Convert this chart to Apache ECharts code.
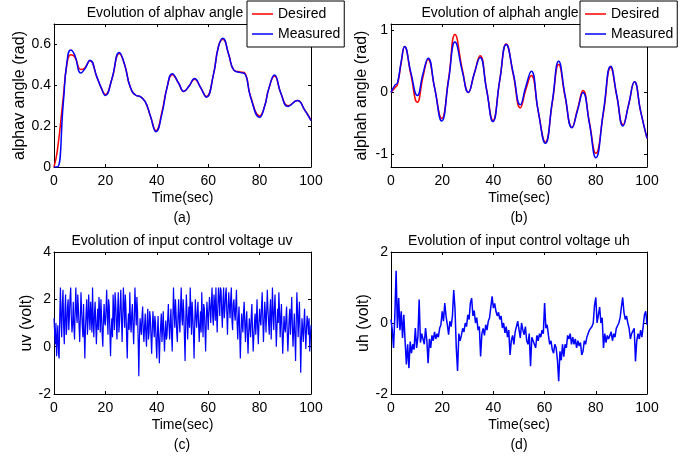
<!DOCTYPE html>
<html>
<head>
<meta charset="utf-8">
<title>alphav / alphah tracking and control voltages</title>
<script src="https://cdn.jsdelivr.net/npm/echarts@6/dist/echarts.min.js"></script>
<style>
    html, body { margin: 0; padding: 0; background: #fff; }
    #chart { width: 695px; height: 459px; }
</style>
</head>
<body>
<div id="chart"></div>
<script>
// (a) alphav angle, read at uneven times
const timeA = [0, 1.3, 3.6, 5, 6.5, 8, 10.5, 12, 14, 16.7, 18.3, 20, 22.5, 25.4, 27.5, 29.7, 32, 33.6, 35.5, 37.5,
    39.7, 42, 44, 46, 48.5, 50.5, 52.5, 54.7, 57, 59.3, 62, 64, 65.7, 68, 70, 72.6, 74.2, 76.5, 80, 82,
    83.5, 85.8, 88.3, 91.1, 94.7, 97.5, 100];
const desA = [0, 0.08, 0.34, 0.5, 0.55, 0.54, 0.477, 0.485, 0.52, 0.44, 0.39, 0.355, 0.43, 0.555, 0.5, 0.39, 0.35, 0.345, 0.32, 0.25,
    0.178, 0.27, 0.39, 0.452, 0.41, 0.37, 0.395, 0.43, 0.39, 0.345, 0.45, 0.59, 0.625, 0.55, 0.474, 0.465, 0.46, 0.345, 0.25, 0.3,
    0.38, 0.445, 0.36, 0.3, 0.325, 0.28, 0.23];
const measA = [0, 0, 0.31, 0.51, 0.573, 0.55, 0.46, 0.48, 0.523, 0.44, 0.39, 0.35, 0.43, 0.56, 0.5, 0.39, 0.35, 0.345, 0.32, 0.25,
    0.173, 0.26, 0.39, 0.457, 0.41, 0.37, 0.395, 0.433, 0.39, 0.342, 0.45, 0.59, 0.63, 0.55, 0.474, 0.462, 0.457, 0.342, 0.243, 0.3,
    0.38, 0.45, 0.36, 0.296, 0.326, 0.28, 0.227];

// (b) alphah angle
const timeB = [0, 1.6, 2.5, 4, 5.3, 7.7, 10.3, 12.5, 14.5, 17, 19.8, 22.5, 25, 27.9, 30.2, 32.5, 34.8, 37.3, 39.8, 42.5,
    45, 47.8, 50.5, 52.7, 54.8, 57.5, 60.3, 63, 65.5, 68, 70.7, 72.8, 75, 77.5, 80, 83, 85.8, 88.2, 90.6, 92.8,
    95.1, 97.5, 100];
const desB = [0, 0.08, 0.12, 0.48, 0.74, 0.3, -0.16, 0.25, 0.53, 0.08, -0.42, 0.22, 0.93, 0.36, 0.0, 0.3, 0.59, 0.06, -0.45, 0.2,
    0.78, 0.28, -0.25, 0.05, 0.27, -0.3, -0.8, -0.17, 0.45, -0.07, -0.56, -0.28, 0.03, -0.48, -0.98, -0.32, 0.4, -0.06, -0.52, -0.2,
    0.17, -0.3, -0.74];
const measB = [0, 0.12, 0.15, 0.5, 0.74, 0.33, -0.05, 0.3, 0.55, 0.08, -0.46, 0.2, 0.81, 0.33, 0.0, 0.3, 0.56, 0.05, -0.47, 0.2,
    0.77, 0.3, -0.2, 0.1, 0.34, -0.3, -0.82, -0.15, 0.5, -0.05, -0.57, -0.3, 0.0, -0.5, -1.05, -0.3, 0.42, -0.05, -0.54, -0.2,
    0.17, -0.3, -0.74];

// (c) uv, one value every uvStep seconds from t = 0 (20 per row = 5 s)
const uvStep = 0.25;
const uv = [
    1.2, 0.6, 0.1, 1.0, -0.4, 0.3, 0.9, -0.3, -0.5, 1.4, 2.5, 1.1, 0.4, 1.8, 2.4, 0.9, 0.1, 1.5, 2.2, 0.5,
    0.8, 1.7, 2.0, 0.7, 1.3, 2.1, 2.5, 1.2, 0.6, 1.0, 1.9, 0.8, 0.3, 1.6, 2.5, 1.4, 1.0, 2.2, 1.6, 0.9,
    0.2, 1.2, 2.3, 1.5, 0.9, 0.4, 1.8, 0.6, -0.5, 0.8, 1.5, 2.0, 0.5, 1.1, 2.2, 1.3, 0.7, 1.9, 1.4, 0.6,
    2.5, 1.1, 0.4, 1.4, 1.9, 0.9, 0.1, 1.0, 1.6, 0.7, 2.1, 1.5, 0.6, 2.0, 1.3, 0.5, 0.0, 1.2, 1.8, 1.0,
    0.9, 1.6, 2.4, 1.3, 0.5, 2.0, 1.7, 0.6, -0.4, 0.7, 1.2, 0.4, 2.2, 1.4, 0.7, 2.3, 1.9, 1.0, 0.3, 1.5,
    2.3, 0.6, 1.0, 1.8, 2.4, 1.2, 0.2, 1.3, 2.5, 1.7, 0.8, 2.2, 1.6, 0.4, -0.5, 0.9, 1.4, 0.7, 2.3, 1.1,
    0.6, 1.4, 1.8, 0.8, 0.1, 1.2, 2.5, 1.6, 0.9, 2.1, 1.5, 0.3, -1.25, 0.4, 1.2, 0.8, 0.5, 1.3, 1.7, 0.6,
    0.2, 0.9, 1.4, 0.5, 0.0, 1.1, 1.6, 0.3, 0.6, 1.5, 1.2, 0.4, -0.3, 0.7, 1.5, 0.9, 0.4, 1.3, 1.0, 0.1,
    -0.5, 0.6, 1.3, 0.2, -0.7, 0.4, 0.9, 1.4, 0.2, 0.8, 1.5, 0.5, -0.2, 0.6, 1.1, 0.3, 0.5, 1.2, 1.8, 0.9,
    0.3, 1.0, 1.6, 0.5, -0.2, 1.2, 2.5, 1.5, 0.8, 2.0, 1.4, 0.6, 0.2, 1.3, 2.0, 1.1, 0.6, 1.7, 2.5, 1.2,
    0.9, 2.0, 1.5, 0.4, -0.6, 1.0, 2.2, 1.4, 0.3, 1.1, 1.7, 0.8, 2.5, 1.6, 0.5, 1.9, 1.3, 0.6, -0.5, 0.9,
    2.0, 1.3, 0.8, 1.4, 1.9, 1.0, 0.2, 0.9, 1.5, 0.6, 2.3, 1.2, 0.4, 1.8, 1.6, 0.7, -0.2, 1.1, 1.9, 1.4,
    0.7, 1.5, 2.1, 1.6, 1.0, 1.9, 2.5, 1.3, 0.9, 2.2, 1.8, 1.1, 2.5, 1.4, 0.6, 1.7, 2.5, 2.0, 1.3, 2.5,
    2.4, 1.5, 0.8, 1.9, 2.5, 1.2, 1.6, 2.2, 2.5, 1.4, 0.5, 1.6, 2.3, 1.7, 1.2, 2.0, 2.5, 1.1, 0.7, 1.8,
    2.0, 1.4, 1.1, 1.8, 2.4, 1.0, 0.3, 1.2, 1.7, 0.6, -0.5, 0.5, 1.4, 1.0, 0.6, 1.5, 1.9, 0.9, 0.2, 1.1,
    1.5, 0.5, -0.3, 0.6, 1.2, 0.8, 0.4, 1.3, 1.8, 0.7, -0.2, 0.4, 1.0, 1.4, 0.5, 1.1, 2.0, 0.8, 0.1, 1.0,
    1.6, 1.1, 0.9, 1.7, 2.3, 1.2, 0.2, 1.0, 1.9, 1.4, 0.6, 1.5, 2.4, 1.6, 1.0, 0.5, 1.5, 2.0, 0.3, 1.2,
    2.5, 1.4, 0.7, 1.6, 2.2, 1.1, 0.0, 0.8, 1.6, 1.0, 2.3, 1.5, 0.4, 1.2, 1.8, 0.6, -0.3, 0.5, 1.3, 0.8,
    0.6, 1.2, 1.7, 0.6, -0.2, 0.5, 1.2, 1.6, 0.5, 1.3, 2.1, 0.9, 0.0, 0.7, 1.4, 0.4, -0.6, 1.0, 2.3, 1.5,
    0.4, 1.2, 1.9, 0.6, -1.1, 0.3, 1.2, 0.7, 0.2, 1.0, 1.6, 0.6, -0.1, 0.8, 1.3, 1.0, 0.5, 1.2, -0.2, 0.4,
    0.9];

// (d) uh, one value every uhStep seconds from t = 0 (10 per row = 5 s)
const uhStep = 0.5;
const uh = [
    0.1, -0.2, -0.7, 0.2, 1.47, -0.14, 0.7, -0.2, 0.33, -0.42,
    0.23, -0.5, -1.17, -0.6, -1.27, -0.52, -0.85, -0.6, -0.75, -0.14,
    -0.7, -0.4, 0.66, -0.55, -0.3, -0.45, -0.6, -0.14, -0.5, -1.13,
    -0.45, -0.7, -0.35, -0.5, -0.25, -0.45, -0.3, -0.4, -0.15, -0.05,
    0.33, 0.05, 0.56, 0.2, -0.05, -0.33, 0.05, -0.1, 0.2, 0.93,
    0.4, -0.7, -1.35, -0.3, -0.5, -0.35, -0.15, -0.25, 0.0, -0.1,
    0.23, 0.1, 0.56, 0.7, 0.2, 0.35, 0.0, 0.15, -0.2, -0.1,
    -0.94, -0.3, -0.15, -0.35, -0.05, -0.2, 0.05, 0.15, 0.2, 0.75,
    0.42, 0.55, 0.33, 0.2, 0.3, 0.1, 0.2, -0.14, 0.0, -0.28,
    -0.1, -0.4, -0.2, -0.9, -0.5, -0.35, -0.6, -0.25, -0.3, 0.05,
    0.1, -0.42, 0.0, -0.2, -0.33, -0.1, -0.5, -0.6, -0.3, -1.22,
    -0.4, -0.5, -0.55, -0.7, -0.35, -0.5, -0.3, -0.4, -0.2, -0.3,
    0.56, -0.15, -0.05, -0.35, -0.6, -0.5, -0.75, -0.85, -0.6, -0.7,
    -1.03, -1.64, -0.8, -1.05, -0.6, -0.95, -0.6, -0.7, -0.35, -0.45,
    -0.3, -0.6, -0.4, -0.6, -0.45, -0.7, -0.5, -0.65, -0.55, -0.9,
    -0.8, -0.5, -0.6, -0.4, -0.35, -0.2, -0.25, -0.1, 0.0, 0.5,
    0.72, 0.0, -0.05, 0.45, 0.0, 0.15, -0.7, -0.3, -0.55, -0.35,
    -0.45, -0.4, -0.25, -0.5, -0.3, -0.4, -0.15, -0.1, 0.0, 0.15,
    0.45, 0.72, 0.3, 0.1, 0.2, 0.0, -0.14, -0.45, -0.3, -0.25,
    -0.15, -1.08, -0.5, -0.3, -0.45, -0.2, -0.4, -0.1, 0.23, 0.33,
    -0.05];

// tick labels
const xTicks = [0, 20, 40, 60, 80, 100];
const yTicksA = [0, 0.2, 0.4, 0.6];
const yTicksB = [-1, 0, 1];
const yTicksC = [-2, 0, 2, 4];
const yTicksD = [-2, 0, 2];

const font = '"Liberation Sans", Arial, sans-serif';

function pairs(t, v) {
    return v.map(function (y, i) { return [t[i], y]; });
}
function stepPairs(v, step) {
    return v.map(function (y, i) { return [i * step, y]; });
}

// each panel: grid, bottom+top x axes, left+right y axes (matlab box)
const panels = [
    { left: 54, top: 24, width: 257, height: 143, ymin: 0, ymax: 0.7, ticks: yTicksA, yname: 'alphav angle (rad)', gap: 25 },
    { left: 391, top: 24, width: 256, height: 143, ymin: -1.2, ymax: 1.1, ticks: yTicksB, yname: 'alphah angle (rad)', gap: 21 },
    { left: 54, top: 252, width: 257, height: 142, ymin: -2, ymax: 4, ticks: yTicksC, yname: 'uv (volt)', gap: 19 },
    { left: 391, top: 252, width: 256, height: 142, ymin: -2, ymax: 2, ticks: yTicksD, yname: 'uh (volt)', gap: 19 }
];

let grids = [], xAxes = [], yAxes = [];
const black = { color: '#000', width: 1 };
panels.forEach(function (p, i) {
    grids.push({ left: p.left, top: p.top, width: p.width, height: p.height, outerBoundsMode: 'none' });
    ['bottom', 'top'].forEach(function (pos) {
        xAxes.push({
            gridIndex: i, type: 'value', min: 0, max: 100, position: pos,
            name: pos == 'bottom' ? 'Time(sec)' : '',
            nameLocation: 'middle', nameGap: 24,
            nameTextStyle: { color: '#000', fontFamily: font, fontSize: 14 },
            axisLine: { onZero: false, lineStyle: black },
            axisTick: { inside: true, length: 3, customValues: xTicks, lineStyle: black },
            axisLabel: { show: pos == 'bottom', customValues: xTicks, margin: 7, color: '#000', fontFamily: font, fontSize: 14 },
            splitLine: { show: false }
        });
    });
    ['left', 'right'].forEach(function (pos) {
        yAxes.push({
            gridIndex: i, type: 'value', min: p.ymin, max: p.ymax, position: pos,
            name: pos == 'left' ? p.yname : '',
            nameLocation: 'middle', nameGap: p.gap,
            nameTextStyle: { color: '#000', fontFamily: font, fontSize: 16 },
            axisLine: { onZero: false, lineStyle: black },
            axisTick: { inside: true, length: 3, customValues: p.ticks, lineStyle: black },
            axisLabel: { show: pos == 'left', customValues: p.ticks, margin: 3, color: '#000', fontFamily: font, fontSize: 14 },
            splitLine: { show: false }
        });
    });
});

function line(name, gi, data, color, width) {
    return {
        name: name, type: 'line', xAxisIndex: gi * 2, yAxisIndex: gi * 2,
        data: data, symbol: 'none', smooth: gi < 2, sampling: null,
        lineStyle: { color: color, width: width }, itemStyle: { color: color },
        emphasis: { disabled: true }
    };
}

const series = [
    line('Desired', 0, pairs(timeA, desA), '#ff0000', 1.5),
    line('Measured', 0, pairs(timeA, measA), '#0000ff', 1.5),
    line('Desired', 1, pairs(timeB, desB), '#ff0000', 1.5),
    line('Measured', 1, pairs(timeB, measB), '#0000ff', 1.5),
    line('uv', 2, stepPairs(uv, uvStep), '#0000ff', 1.2),
    line('uh', 3, stepPairs(uh, uhStep), '#0000ff', 1.5)
];

function legendAt(left) {
    return {
        data: ['Desired', 'Measured'], orient: 'vertical', left: left, top: 1,
        icon: 'rect', itemWidth: 21, itemHeight: 1.5, itemGap: 4,
        padding: [5, 4, 5, 5], borderColor: '#000', borderWidth: 1, backgroundColor: '#fff',
        selectedMode: false, z: 10,
        textStyle: { color: '#000', fontFamily: font, fontSize: 14, lineHeight: 16 }
    };
}

function label(text, x, y) {
    return {
        type: 'text', x: x, y: y, silent: true,
        style: { text: text, align: 'center', verticalAlign: 'middle', fill: '#000', fontFamily: font, fontSize: 14 }
    };
}

let myChart = echarts.init(document.getElementById('chart'));
myChart.setOption({
    animation: false,
    backgroundColor: '#fff',
    grid: grids,
    xAxis: xAxes,
    yAxis: yAxes,
    legend: [legendAt(247), legendAt(580)],
    graphic: [
        label('Evolution of alphav angle', 165, 13),
        label('Evolution of alphah angle', 500, 13),
        label('Evolution of input control voltage uv', 182, 241),
        label('Evolution of input control voltage uh', 519, 241),
        label('(a)', 182, 218),
        label('(b)', 519, 218),
        label('(c)', 182, 445),
        label('(d)', 519, 445)
    ],
    series: series
});
</script>
</body>
</html>
